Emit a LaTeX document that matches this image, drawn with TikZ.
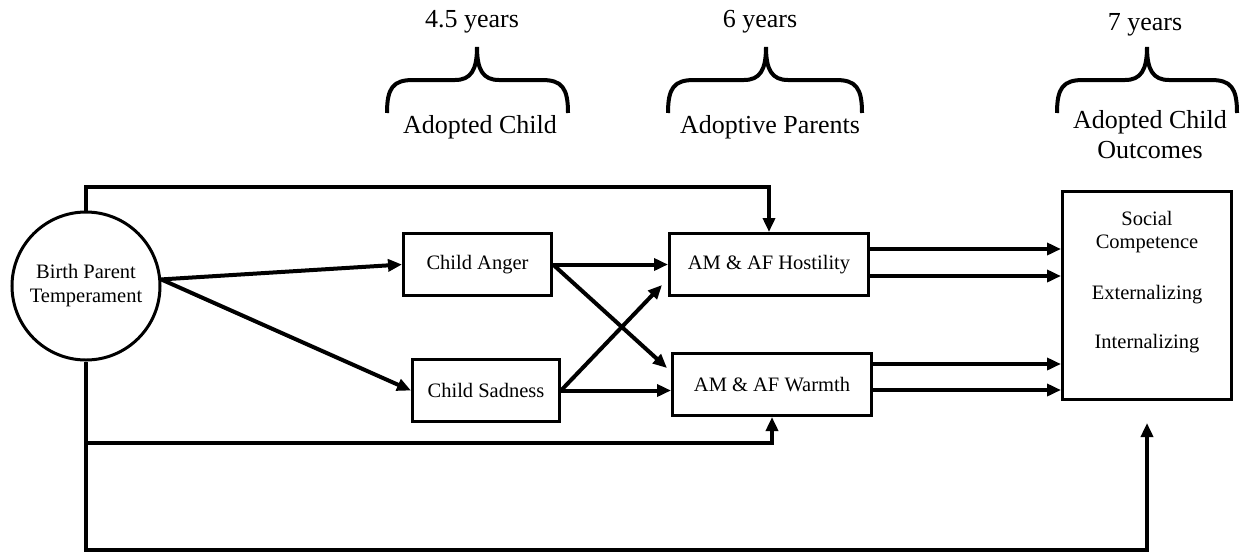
\documentclass[tikz,border=0pt]{standalone}
\usepackage{fontspec}
\setmainfont{Liberation Serif}
\usetikzlibrary{arrows.meta,calc}
\newcommand{\mybrace}[3]{%
  \draw[bracepath] (#1,113) .. controls (#1,88) and (#1+6,80) .. (#1+26,80)
    -- (#2-22,80) .. controls (#2-6,80) and (#2,70) .. (#2,47)
    .. controls (#2,70) and (#2+6,80) .. (#2+22,80)
    -- (#3-26,80) .. controls (#3-6,80) and (#3,88) .. (#3,113);}
\begin{document}
\begin{tikzpicture}[x=1pt,y=-1pt,
  box/.style={draw,line width=3pt,rectangle,inner sep=0pt,
    font=\fontsize{20.5}{24}\selectfont,align=center},
  conn/.style={line width=4pt,-{Triangle[length=14pt,width=12pt]}},
  head/.style={font=\fontsize{26}{30}\selectfont,align=center,inner sep=0pt},
  bracepath/.style={line width=4pt}]
\useasboundingbox (0,0) rectangle (1244,552);

% headings
\node[head] (y1) at (472,22) {4.5 years};
\node[head] (y2) at (760,22) {6 years};
\node[head] (y3) at (1145,25) {7 years};
\node[head] (g1) at (480,127) {Adopted Child};
\node[head] (g2) at (770,127) {Adoptive Parents};
\node[head] (g3) at (1150,135) {Adopted Child\\Outcomes};
\mybrace{387}{477}{568}
\mybrace{668}{766}{862}
\mybrace{1057}{1147}{1237}

% nodes
\node[box,circle,minimum size=148pt] (bp) at (86,286) {Birth Parent\\Temperament};
\node[box,minimum width=148pt,minimum height=62pt] (anger) at (477.5,264.5) {Child Anger};
\node[box,minimum width=147pt,minimum height=62pt] (sad) at (486,390.5) {Child Sadness};
\node[box,minimum width=199pt,minimum height=62pt] (host) at (769,264.5) {AM \& AF Hostility};
\node[box,minimum width=199pt,minimum height=62pt] (warm) at (772,384.5) {AM \& AF Warmth};
\node[box,minimum width=169pt,minimum height=208pt] (out) at (1147,295.5) {};
\node[font=\fontsize{20.5}{23}\selectfont,align=center,inner sep=0pt] (outtext) at (1147,282)
  {Social\\Competence\\[28pt]Externalizing\\[26pt]Internalizing};

% coordinates for elbows
\coordinate (topc) at (769,187);
\coordinate (wc) at (772,443);
\coordinate (bc) at (1147,550);
\coordinate (outtip) at (1147,423);

% connectors
\draw[conn] (bp.5) -- (anger.west);
\draw[conn] (bp.5) -- (sad.west);
\draw[conn] (anger.east) -- (host.west);
\draw[conn] (anger.east) -- ([xshift=-4pt,yshift=-16pt]warm.north west);
\draw[conn] (sad.east) -- ([xshift=-6pt,yshift=12pt]host.south west);
\draw[conn] (sad.east) -- (sad.east -| warm.west);

\draw[conn] ([yshift=15.5pt]host.east) -- ([yshift=15.5pt]host.east -| out.west);
\draw[conn] ([yshift=-11.5pt]host.east) -- ([yshift=-11.5pt]host.east -| out.west);
\draw[conn] ([yshift=20.5pt]warm.east) -- ([yshift=20.5pt]warm.east -| out.west);
\draw[conn] ([yshift=-5.5pt]warm.east) -- ([yshift=-5.5pt]warm.east -| out.west);

\draw[conn] (bp.north) |- (topc) -- (host.north);
\draw[conn] (bp.south) |- (wc) -- (warm.south);
\draw[conn] (bp.south) |- (bc) -- (outtip);
\end{tikzpicture}
\end{document}
